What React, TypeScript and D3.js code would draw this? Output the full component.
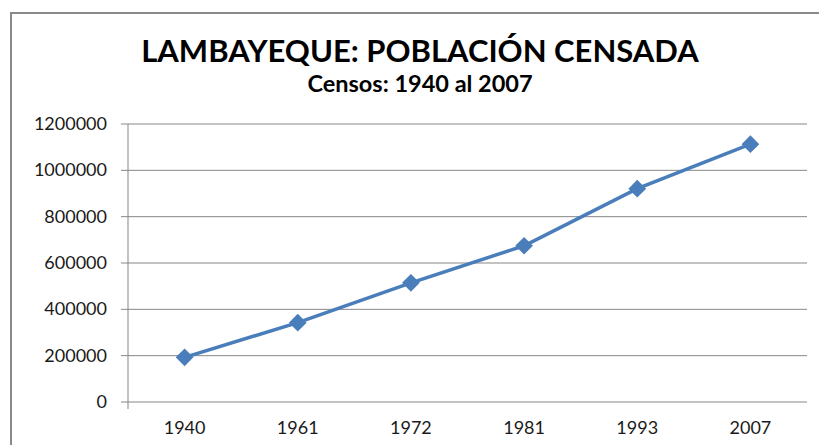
import React from "react";
import * as d3 from "d3";

const years = ["1940", "1961", "1972", "1981", "1993", "2007"];
const population = [192890, 342446, 514602, 674442, 920795, 1112868];
const yTicks = [0, 200000, 400000, 600000, 800000, 1000000, 1200000];

const width = 819;
const height = 445;
const margin = { left: 128, right: 12, top: 124, bottom: 43 };
const blue = "#4a7ebb";
const grid = "#878787";
const font = "Lato, Carlito, 'Open Sans', sans-serif";

const x = d3
  .scaleBand()
  .domain(years)
  .range([margin.left, width - margin.right]);

const y = d3
  .scaleLinear()
  .domain([0, 1200000])
  .range([height - margin.bottom, margin.top]);

const line = d3
  .line<number>()
  .x((_, i) => x(years[i])! + x.bandwidth() / 2)
  .y((d) => y(d));

const diamond = d3.symbol().type(d3.symbolDiamond2).size(200);

const App = () => {
  return (
    <svg
      width={width}
      height={height}
      style={{ position: "absolute", left: 0, top: 0, background: "#fff" }}
    >
      <rect x={11} y={13} width={840} height={460} fill="#fff" stroke="#898989" strokeWidth={2} />

      <text
        x={420}
        y={62}
        textAnchor="middle"
        fontFamily={font}
        fontWeight="bold"
        fontSize={31}
      >
        LAMBAYEQUE: POBLACIÓN CENSADA
      </text>
      <text
        x={420}
        y={92}
        textAnchor="middle"
        fontFamily={font}
        fontWeight="bold"
        fontSize={23.5}
      >
        Censos: 1940 al 2007
      </text>

      {yTicks.map((t) => (
        <g key={t}>
          <line
            x1={margin.left - 7}
            x2={width - margin.right}
            y1={y(t)}
            y2={y(t)}
            stroke={grid}
            strokeWidth={1}
          />
          <text
            x={107}
            y={y(t) + 6}
            textAnchor="end"
            fontFamily={font}
            fontSize={18}
            fill="#1a1a1a"
          >
            {t}
          </text>
        </g>
      ))}

      <line
        x1={margin.left}
        x2={margin.left}
        y1={margin.top}
        y2={height - margin.bottom + 7}
        stroke={grid}
        strokeWidth={1}
      />

      {years.map((yr) => (
        <text
          key={yr}
          x={x(yr)! + x.bandwidth() / 2}
          y={434}
          textAnchor="middle"
          fontFamily={font}
          fontSize={18}
          fill="#1a1a1a"
        >
          {yr}
        </text>
      ))}

      <path d={line(population) || ""} fill="none" stroke={blue} strokeWidth={3.5} />
      {population.map((p, i) => (
        <path
          key={years[i]}
          d={diamond() || ""}
          transform={`translate(${x(years[i])! + x.bandwidth() / 2},${y(p)})`}
          fill={blue}
        />
      ))}
    </svg>
  );
};

export default App;
